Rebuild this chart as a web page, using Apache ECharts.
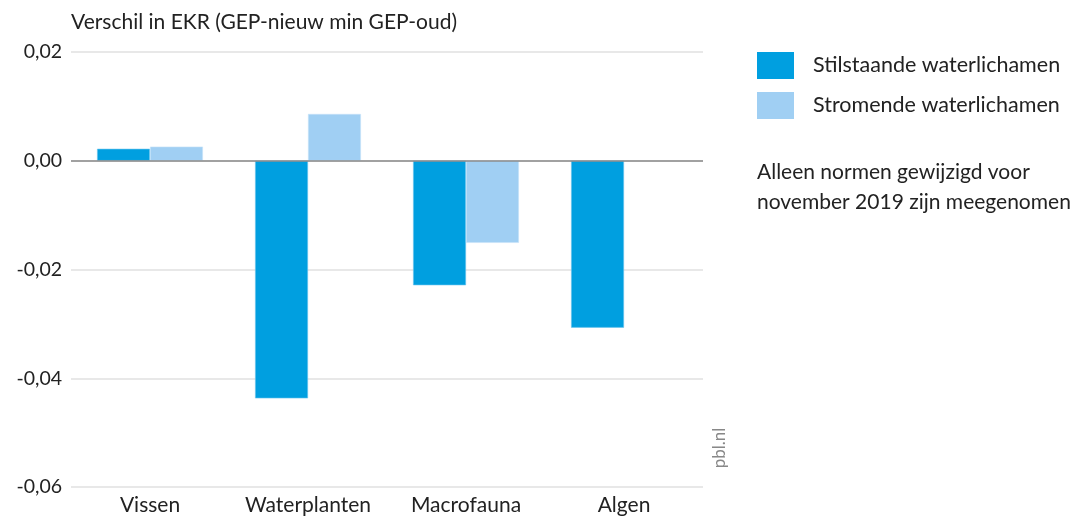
<!DOCTYPE html>
<html>
<head>
<meta charset="utf-8">
<script src="https://cdn.jsdelivr.net/npm/echarts@6/dist/echarts.min.js"></script>
<style>
  html, body { margin: 0; padding: 0; background: #fff; }
  #chart { width: 1076px; height: 516px; }
</style>
</head>
<body>
<div id="chart"></div>
<script>
// Change in EKR score (new GEP minus old GEP) per quality element
const categories = ['Vissen', 'Waterplanten', 'Macrofauna', 'Algen'];
const stilstaand = [0.0022, -0.0437, -0.0229, -0.0307];
const stromend = [0.0026, 0.0086, -0.0151, null];
const seriesNames = ['Stilstaande waterlichamen', 'Stromende waterlichamen'];
const yTicks = { min: -0.06, max: 0.02, interval: 0.02 };

const FONT = 'Lato';
const chart = echarts.init(document.getElementById('chart'));

const fmt = v => (v < 0 ? '-' : '') + Math.abs(v).toFixed(2).replace('.', ',');

chart.setOption({
  animation: false,
  textStyle: { fontFamily: FONT },
  grid: { left: 71, right: 373, top: 52, bottom: 29, containLabel: false },
  title: {
    text: 'Verschil in EKR (GEP-nieuw min GEP-oud)',
    left: 71, top: 12, padding: 0,
    textStyle: { fontFamily: FONT, fontSize: 21, fontWeight: 'normal', color: '#222' }
  },
  legend: {
    orient: 'vertical',
    left: 757, top: 52, padding: 0,
    itemWidth: 37, itemHeight: 27, itemGap: 13,
    itemStyle: { borderWidth: 0, borderRadius: 0 },
    icon: 'rect',
    textStyle: { fontFamily: FONT, fontSize: 21.5, color: '#222', padding: [0, 0, 0, 14] },
    data: seriesNames
  },
  graphic: [
    {
      type: 'text', left: 757, top: 157,
      style: {
        text: 'Alleen normen gewijzigd voor\nnovember 2019 zijn meegenomen',
        font: '21px ' + FONT, fill: '#222', lineHeight: 30
      }
    },
    {
      type: 'text', x: 720, y: 448, rotation: Math.PI / 2,
      style: { text: 'pbl.nl', font: '17px ' + FONT, fill: '#888', align: 'center', verticalAlign: 'middle' }
    }
  ],
  xAxis: {
    type: 'category',
    data: categories,
    axisLine: { show: false },
    axisTick: { show: false },
    axisLabel: { fontFamily: FONT, fontSize: 21, color: '#222', margin: 8, interval: 0 }
  },
  yAxis: {
    type: 'value',
    min: yTicks.min, max: yTicks.max, interval: yTicks.interval,
    axisLine: { show: false },
    axisTick: { show: false },
    splitLine: { lineStyle: { color: '#e0e0e0', width: 1.5 } },
    axisLabel: { fontFamily: FONT, fontSize: 19.5, color: '#222', margin: 9, formatter: fmt }
  },
  series: [
    {
      name: seriesNames[0], type: 'bar', data: stilstaand,
      barGap: '0%', barCategoryGap: '33%',
      itemStyle: { color: '#009fe0', borderColor: '#6cc4ee', borderWidth: 0.6 },
      markLine: {
        silent: true, symbol: 'none', label: { show: false },
        lineStyle: { color: '#8a8a8a', width: 1.5, type: 'solid' },
        data: [{ yAxis: 0 }]
      }
    },
    {
      name: seriesNames[1], type: 'bar', data: stromend,
      itemStyle: { color: '#a0cff3', borderColor: '#c6e3f8', borderWidth: 0.6 }
    }
  ]
});
</script>
</body>
</html>
